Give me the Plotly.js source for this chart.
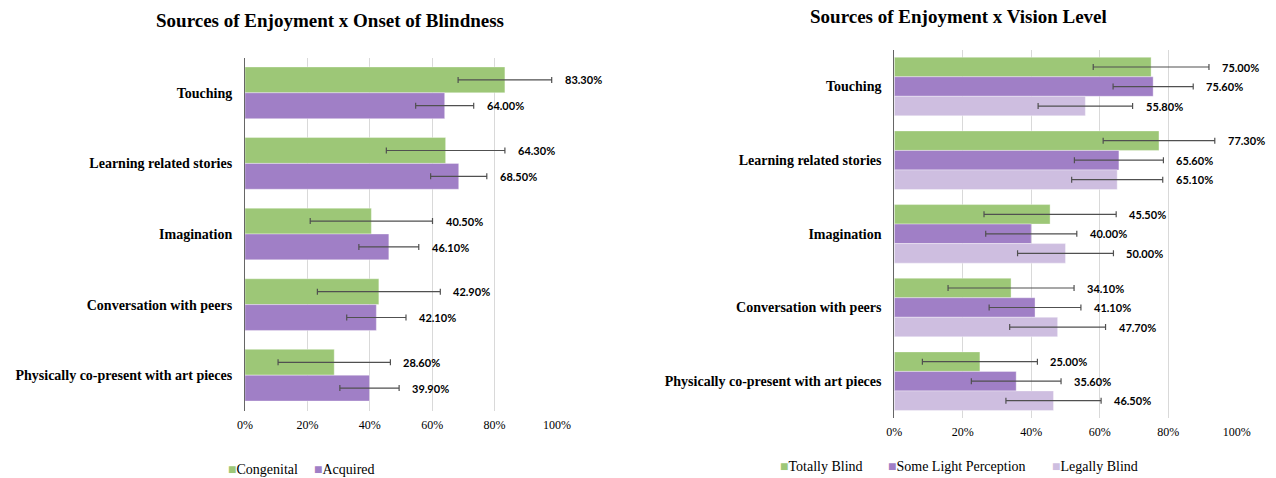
<!DOCTYPE html>
<html>
<head>
<meta charset="utf-8">
<script src="https://cdn.plot.ly/plotly-3.0.1.min.js"></script>
<style>html,body{margin:0;padding:0;background:#fff;}#chart{width:1276px;height:478px;}</style>
</head>
<body>
<div id="chart"></div>
<script>
const categories = ["Touching", "Learning related stories", "Imagination", "Conversation with peers", "Physically co-present with art pieces"];
const xTickVals = [0, 20, 40, 60, 80, 100];
const xTickLabels = ["0%", "20%", "40%", "60%", "80%", "100%"];

// Left chart: Onset of Blindness
const congenital = [83.3, 64.3, 40.5, 42.9, 28.6];
const congenitalErr = [15.0, 19.0, 19.6, 19.7, 18.0];
const acquired = [64.0, 68.5, 46.1, 42.1, 39.9];
const acquiredErr = [9.3, 9.0, 9.6, 9.5, 9.5];

// Right chart: Vision Level
const totallyBlind = [75.0, 77.3, 45.5, 34.1, 25.0];
const totallyBlindErr = [16.9, 16.3, 19.3, 18.4, 16.8];
const someLight = [75.6, 65.6, 40.0, 41.1, 35.6];
const someLightErr = [11.7, 13.0, 13.3, 13.4, 13.1];
const legallyBlind = [55.8, 65.1, 50.0, 47.7, 46.5];
const legallyBlindErr = [13.8, 13.3, 14.0, 14.0, 13.9];

const GREEN = '#9DC777', PURPLE = '#A07FC6', LAVENDER = '#CEBEE0';
const serif = 'Liberation Serif, Times New Roman, serif';
const labelFont = {family: 'Lato, Liberation Sans, sans-serif', size: 11, color: '#000', weight: 700};

function barTrace(name, vals, errs, color, xa, ya, offset, width) {
  return {
    type: 'bar', orientation: 'h', name: name,
    x: vals, y: categories, xaxis: xa, yaxis: ya,
    offset: offset, width: width,
    marker: {color: color, line: {color: 'rgba(255,255,255,0.6)', width: 0.6}},
    error_x: {type: 'data', array: errs, visible: true, color: '#505050', thickness: 1.2, width: 3},
    showlegend: false, hoverinfo: 'skip'
  };
}

const LW = 0.366, RW = 0.265;
const data = [
  barTrace('Congenital', congenital, congenitalErr, GREEN, 'x', 'y', -LW, LW),
  barTrace('Acquired', acquired, acquiredErr, PURPLE, 'x', 'y', 0, LW),
  barTrace('Totally Blind', totallyBlind, totallyBlindErr, GREEN, 'x2', 'y2', -1.5 * RW, RW),
  barTrace('Some Light Perception', someLight, someLightErr, PURPLE, 'x2', 'y2', -0.5 * RW, RW),
  barTrace('Legally Blind', legallyBlind, legallyBlindErr, LAVENDER, 'x2', 'y2', 0.5 * RW, RW)
];

const annotations = [];
function addLabels(vals, errs, xref, yref, yshift) {
  vals.forEach((v, i) => {
    annotations.push({
      x: v + errs[i], y: categories[i], xref: xref, yref: yref,
      text: v.toFixed(2) + '%', showarrow: false, xanchor: 'left', yanchor: 'middle',
      xshift: 11, yshift: yshift, font: labelFont
    });
  });
}
addLabels(congenital, congenitalErr, 'x', 'y', 13);
addLabels(acquired, acquiredErr, 'x', 'y', -13);
addLabels(totallyBlind, totallyBlindErr, 'x2', 'y2', 19.5);
addLabels(someLight, someLightErr, 'x2', 'y2', 0);
addLabels(legallyBlind, legallyBlindErr, 'x2', 'y2', -19.5);

annotations.push({
  text: '<b>Sources of Enjoyment x Onset of Blindness</b>', xref: 'paper', yref: 'paper',
  x: 330 / 1276, y: 1 - 20 / 478, xanchor: 'center', yanchor: 'middle', showarrow: false,
  font: {family: serif, size: 19, color: '#000'}
});
annotations.push({
  text: '<b>Sources of Enjoyment x Vision Level</b>', xref: 'paper', yref: 'paper',
  x: 958.6 / 1276, y: 1 - 17 / 478, xanchor: 'center', yanchor: 'middle', showarrow: false,
  font: {family: serif, size: 19, color: '#000'}
});

// Legend entries (Excel-style: small square directly before the text)
function legendItem(name, color, leftPx, yPx) {
  annotations.push({
    text: '<span style="color:' + color + ';font-size:14px;">■</span>' + name,
    xref: 'paper', yref: 'paper', x: leftPx / 1276, y: 1 - yPx / 478,
    xanchor: 'left', yanchor: 'middle', showarrow: false,
    font: {family: serif, size: 14, color: '#000'}
  });
}
legendItem('Congenital', GREEN, 226, 469);
legendItem('Acquired', PURPLE, 312, 469);
legendItem('Totally Blind', GREEN, 778, 466);
legendItem('Some Light Perception', PURPLE, 886, 466);
legendItem('Legally Blind', LAVENDER, 1050, 466);

function xAxis(domain, anchor) {
  return {
    domain: domain, anchor: anchor, range: [0, 100], tickmode: 'array', tickvals: xTickVals, ticktext: xTickLabels,
    showgrid: true, gridcolor: '#D9D9D9', gridwidth: 1, zeroline: false, showline: false,
    ticks: '', ticklabelstandoff: 5, tickfont: {family: serif, size: 12, color: '#000'}, fixedrange: true
  };
}
function yAxis(domain, anchor) {
  return {
    domain: domain, anchor: anchor, type: 'category', range: [4.5, -0.5],
    showgrid: false, zeroline: false, showline: true, linecolor: '#666', linewidth: 1,
    ticks: '', ticklabelstandoff: 9,
    tickfont: {family: serif, size: 14, color: '#000', weight: 700}, fixedrange: true
  };
}

const layout = {
  width: 1276, height: 478,
  margin: {l: 0, r: 0, t: 0, b: 0, autoexpand: false},
  paper_bgcolor: '#fff', plot_bgcolor: '#fff',
  barmode: 'overlay',
  showlegend: false,
  xaxis: xAxis([245 / 1276, 557 / 1276], 'y'),
  yaxis: yAxis([1 - 410.5 / 478, 1 - 57.5 / 478], 'x'),
  xaxis2: xAxis([894.3 / 1276, 1236.7 / 1276], 'y2'),
  yaxis2: yAxis([1 - 418 / 478, 1 - 49.7 / 478], 'x2'),
  annotations: annotations
};

Plotly.newPlot('chart', data, layout, {displayModeBar: false, staticPlot: true});
</script>
</body>
</html>
